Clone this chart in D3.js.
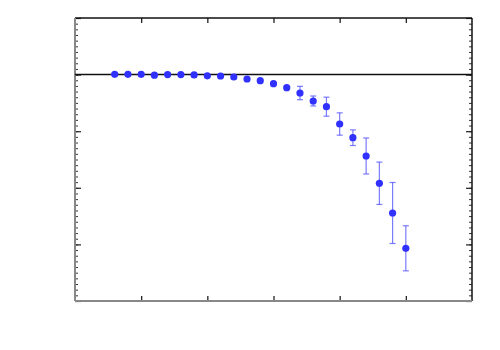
<!DOCTYPE html>
<html>
<head>
<meta charset="utf-8">
<script src="https://cdn.jsdelivr.net/npm/d3@7"></script>
<style>
  body { margin: 0; background: #fff; }
</style>
</head>
<body>
<div id="chart"></div>
<script>
// data
const xValues = [0.6, 0.8, 1.0, 1.2, 1.4, 1.6, 1.8, 2.0, 2.2, 2.4, 2.6, 2.8,
                 3.0, 3.2, 3.4, 3.6, 3.8, 4.0, 4.2, 4.4, 4.6, 4.8, 5.0];
const yValues = [4.005, 4.005, 4.005, 3.99, 4.0, 4.0, 3.995, 3.978, 3.975, 3.958, 3.922, 3.892,
                 3.839, 3.769, 3.675, 3.534, 3.433, 3.127, 2.885, 2.562, 2.080, 1.555, 0.931];
const yErrors = [0, 0, 0, 0, 0, 0, 0, 0, 0, 0, 0, 0,
                 0.01, 0.02, 0.118, 0.088, 0.168, 0.197, 0.138, 0.318, 0.374, 0.539, 0.398];
const refLine = 4;
const xTicks = [1, 2, 3, 4, 5];

const margin = { top: 18, right: 28, bottom: 49, left: 75 },
      width = 500 - margin.left - margin.right,
      height = 350 - margin.top - margin.bottom;

const x = d3.scaleLinear().domain([0, 6]).range([0, width]);
const y = d3.scaleLinear().domain([0, 5]).range([height, 0]);

const svg = d3.select('#chart').append('svg')
    .attr('width', 500)
    .attr('height', 350);

const g = svg.append('g')
    .attr('transform', `translate(${margin.left},${margin.top})`);

const data = xValues.map((v, i) => ({ x: v, y: yValues[i], e: yErrors[i] }));

// inward ticks, no labels
const minorY = d3.range(0, 50).map(i => i / 10);
const majorY = d3.range(0, 6);

g.append('g').call(d3.axisBottom(x).tickValues(xTicks).tickSize(-5).tickFormat(''))
    .attr('transform', `translate(0,${height})`)
    .call(a => a.select('.domain').remove())
    .selectAll('line').attr('stroke', '#222').attr('stroke-width', 1.3);
g.append('g').call(d3.axisTop(x).tickValues(xTicks).tickSize(-5).tickFormat(''))
    .call(a => a.select('.domain').remove())
    .selectAll('line').attr('stroke', '#222').attr('stroke-width', 1.3);

g.append('g').call(d3.axisLeft(y).tickValues(minorY).tickSize(-3).tickFormat(''))
    .call(a => a.select('.domain').remove())
    .selectAll('line').attr('stroke', '#333');
g.append('g').call(d3.axisLeft(y).tickValues(majorY).tickSize(-6).tickFormat(''))
    .call(a => a.select('.domain').remove())
    .selectAll('line').attr('stroke', '#222').attr('stroke-width', 1.2);
g.append('g').call(d3.axisRight(y).tickValues(minorY).tickSize(-3).tickFormat(''))
    .attr('transform', `translate(${width},0)`)
    .call(a => a.select('.domain').remove())
    .selectAll('line').attr('stroke', '#333');
g.append('g').call(d3.axisRight(y).tickValues(majorY).tickSize(-6).tickFormat(''))
    .attr('transform', `translate(${width},0)`)
    .call(a => a.select('.domain').remove())
    .selectAll('line').attr('stroke', '#222').attr('stroke-width', 1.2);

// frame
g.append('line').attr('x1', 0).attr('x2', width).attr('y1', 0).attr('y2', 0)
    .attr('stroke', '#111').attr('stroke-width', 1.5);
g.append('line').attr('x1', width).attr('x2', width).attr('y1', 0).attr('y2', height)
    .attr('stroke', '#111').attr('stroke-width', 1.5);
g.append('line').attr('x1', 0).attr('x2', width).attr('y1', height).attr('y2', height)
    .attr('stroke', '#888').attr('stroke-width', 2);
g.append('line').attr('x1', 0).attr('x2', 0).attr('y1', 0).attr('y2', height)
    .attr('stroke', '#888').attr('stroke-width', 2);

// reference line
g.append('line')
    .attr('x1', 0).attr('x2', width)
    .attr('y1', y(refLine)).attr('y2', y(refLine))
    .attr('stroke', '#111').attr('stroke-width', 1.5);

// error bars
const eb = g.selectAll('.err')
    .data(data.filter(d => d.e > 0))
    .enter().append('g')
      .attr('class', 'err')
      .attr('stroke', '#5a5aff')
      .attr('stroke-opacity', 0.8)
      .attr('stroke-width', 1.2);
eb.append('line')
    .attr('x1', d => x(d.x)).attr('x2', d => x(d.x))
    .attr('y1', d => y(d.y - d.e)).attr('y2', d => y(d.y + d.e));
eb.append('line')
    .attr('x1', d => x(d.x) - 3).attr('x2', d => x(d.x) + 3)
    .attr('y1', d => y(d.y - d.e)).attr('y2', d => y(d.y - d.e));
eb.append('line')
    .attr('x1', d => x(d.x) - 3).attr('x2', d => x(d.x) + 3)
    .attr('y1', d => y(d.y + d.e)).attr('y2', d => y(d.y + d.e));

// points
g.selectAll('.dot')
    .data(data)
    .enter().append('circle')
      .attr('class', 'dot')
      .attr('cx', d => x(d.x))
      .attr('cy', d => y(d.y))
      .attr('r', 3.6)
      .style('fill', '#3030ff');
</script>
</body>
</html>
